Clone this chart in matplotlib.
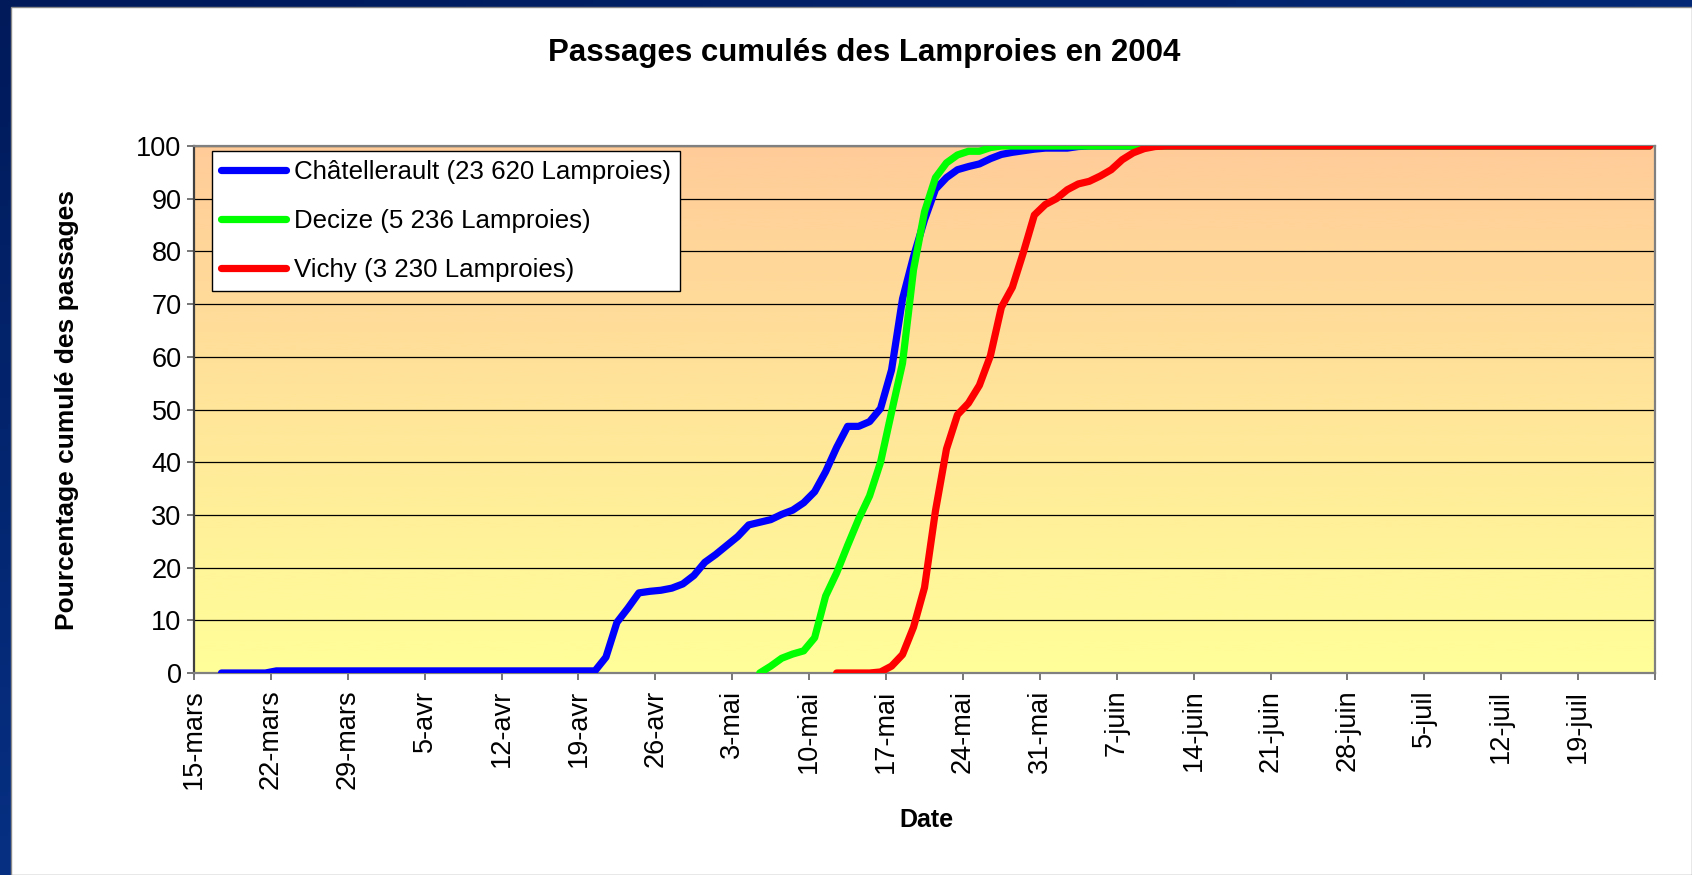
import numpy as np
import pandas as pd
import matplotlib
matplotlib.use("Agg")
import matplotlib.pyplot as plt
from matplotlib.colors import LinearSegmentedColormap
from matplotlib.patches import Rectangle

plt.rcParams['font.family'] = ['Liberation Sans', 'DejaVu Sans']

# ---------------- data ----------------
title = "Passages cumulés des Lamproies en 2004"
ylabel = "Pourcentage cumulé des passages"
xlabel = "Date"

axis_start = "2004-03-15"
axis_end = "2004-07-26"
xtick_labels = ["15-mars", "22-mars", "29-mars", "5-avr", "12-avr", "19-avr",
                "26-avr", "3-mai", "10-mai", "17-mai", "24-mai", "31-mai",
                "7-juin", "14-juin", "21-juin", "28-juin", "5-juil", "12-juil",
                "19-juil"]
yticks = [0, 10, 20, 30, 40, 50, 60, 70, 80, 90, 100]

series_labels = ["Châtellerault (23 620 Lamproies)",
                 "Decize (5 236 Lamproies)",
                 "Vichy (3 230 Lamproies)"]
series_colors = ["#0000FF", "#00FF00", "#FF0000"]

# daily cumulative percentage, each series starting at its first date
chatellerault_start = "2004-03-17"
chatellerault = [
    0, 0, 0, 0, 0,
    0.4, 0.4, 0.4, 0.4, 0.4, 0.4, 0.4, 0.4, 0.4, 0.4,
    0.4, 0.4, 0.4, 0.4, 0.4, 0.4, 0.4, 0.4, 0.4, 0.4,
    0.4, 0.4, 0.4, 0.4, 0.4, 0.4, 0.4, 0.4, 0.4, 0.4,
    3.0, 9.6, 12.3, 15.2, 15.5, 15.7, 16.1, 16.9, 18.5, 21.0,
    22.5, 24.2, 25.9, 28.1, 28.6, 29.1, 30.1, 30.9, 32.3, 34.4,
    38.2, 42.8, 46.8, 46.8, 47.7, 50.2, 57.5, 71.0, 79.0, 86.0,
    91.8, 94.0, 95.5, 96.1, 96.6, 97.6, 98.4, 98.8, 99.1, 99.4,
    99.6, 99.6, 99.6, 99.9,
    100, 100, 100, 100, 100, 100, 100, 100, 100, 100,
    100, 100, 100, 100, 100, 100, 100, 100, 100, 100,
    100, 100, 100, 100, 100, 100, 100, 100, 100, 100,
    100, 100, 100, 100, 100, 100, 100, 100, 100, 100,
    100, 100, 100, 100, 100, 100, 100, 100, 100, 100,
    100, 100,
]

decize_start = "2004-05-05"
decize = [
    0, 1.3, 2.8, 3.6, 4.2, 6.7, 14.6, 19.0, 24.2, 29.2,
    33.6, 40.0, 49.5, 58.8, 76.5, 87.5, 94.0, 96.8, 98.3, 99.0,
    99.0, 99.7,
    100, 100, 100, 100, 100, 100, 100, 100, 100, 100,
    100, 100, 100, 100, 100, 100, 100, 100, 100, 100,
    100, 100, 100, 100, 100, 100, 100, 100, 100, 100,
    100, 100, 100, 100, 100, 100, 100, 100, 100, 100,
    100, 100, 100, 100, 100, 100, 100, 100, 100, 100,
    100, 100, 100, 100, 100, 100, 100, 100, 100, 100,
]

vichy_start = "2004-05-12"
vichy = [
    0, 0, 0, 0, 0.2, 1.3, 3.5, 8.7, 16.2, 30.8,
    42.5, 49.0, 51.2, 54.6, 60.2, 69.4, 73.2, 79.8, 86.9, 88.9,
    90.0, 91.7, 92.8, 93.3, 94.3, 95.5, 97.4, 98.7, 99.5, 99.9,
    100, 100, 100, 100, 100, 100, 100, 100, 100, 100,
    100, 100, 100, 100, 100, 100, 100, 100, 100, 100,
    100, 100, 100, 100, 100, 100, 100, 100, 100, 100,
    100, 100, 100, 100, 100, 100, 100, 100, 100, 100,
    100, 100, 100, 100, 100,
]

# ---------------- helpers ----------------
t0 = pd.Timestamp(axis_start)
x_end = (pd.Timestamp(axis_end) - t0).days


def positions(first, values):
    d0 = (pd.Timestamp(first) - t0).days
    return np.arange(d0, d0 + len(values)) + 0.5  # points centred in the day


W, H = 1692, 875
fig = plt.figure(figsize=(W / 100, H / 100), dpi=100)

# slide-like blue frame (left and top), white chart area
bg = fig.add_axes([0, 0, 1, 1])
bg.set_axis_off()
gx, gy = np.meshgrid(np.linspace(0, 1, 200), np.linspace(0, 1, 200))
blue_cmap = LinearSegmentedColormap.from_list("b", ["#001A5A", "#0B3E9E"])
bg.imshow(0.6 * gy + 0.4 * gx, cmap=blue_cmap, extent=[0, 1, 0, 1],
          aspect="auto", origin="upper")
bg.add_patch(Rectangle((11 / W, 0), 1 - 11 / W, 1 - 7 / H,
                       facecolor="white", edgecolor="#8a8a8a", lw=1.0))
bg.set_xlim(0, 1)
bg.set_ylim(0, 1)

# plot area
L, R, T, B = 194, 1655, 146, 673
ax = fig.add_axes([L / W, 1 - B / H, (R - L) / W, (B - T) / H])

grad = np.linspace(0, 1, 256).reshape(-1, 1)
bg_cmap = LinearSegmentedColormap.from_list("g", ["#FFFF99", "#FFCC99"])
ax.imshow(grad, cmap=bg_cmap, extent=[0, x_end, 0, 100], aspect="auto",
          origin="lower", zorder=0, interpolation="bicubic")

for vals, first, lab, col in zip([chatellerault, decize, vichy],
                                 [chatellerault_start, decize_start, vichy_start],
                                 series_labels, series_colors):
    ax.plot(positions(first, vals), vals, color=col, lw=5.2, label=lab,
            solid_joinstyle="round", solid_capstyle="round", zorder=3)

ax.set_xlim(0, x_end)
ax.set_ylim(0, 100)
ax.set_yticks(yticks)
ax.set_yticklabels([str(v) for v in yticks])
ax.yaxis.grid(True, color="black", lw=0.9)
ax.xaxis.grid(False)

tick_pos = np.arange(0, x_end + 1, 7)
ax.set_xticks(tick_pos)
ax.set_xticklabels(xtick_labels + [""] * (len(tick_pos) - len(xtick_labels)),
                   rotation=90)

ax.tick_params(axis="both", labelsize=19.5, direction="out", length=5, width=1.2,
               color="#606060")
ax.tick_params(axis="y", pad=4)
ax.tick_params(axis="x", pad=7)
for s in ["top", "right", "bottom"]:
    ax.spines[s].set_color("#808080")
    ax.spines[s].set_linewidth(1.6)
ax.spines["left"].set_color("#404040")
ax.spines["left"].set_linewidth(1.6)

leg = ax.legend(loc="upper left", bbox_to_anchor=(212 / W, 1 - 151 / H),
                bbox_transform=fig.transFigure, fontsize=18.6, frameon=True,
                fancybox=False, framealpha=1, edgecolor="black",
                handlelength=2.5, handletextpad=0.3, labelspacing=0.96,
                borderpad=0.36, borderaxespad=0)
leg.get_frame().set_linewidth(1.0)

fig.text(864 / W, 1 - 61.5 / H, title, ha="center", va="baseline",
         fontsize=22.5, fontweight="bold")
fig.text(67 / W, 1 - 410 / H, ylabel, rotation=90, ha="center", va="center",
         fontsize=19, fontweight="bold")
fig.text(926 / W, 1 - 820 / H, xlabel, ha="center", va="center",
         fontsize=18, fontweight="bold")

fig.savefig("out.png", dpi=100)
